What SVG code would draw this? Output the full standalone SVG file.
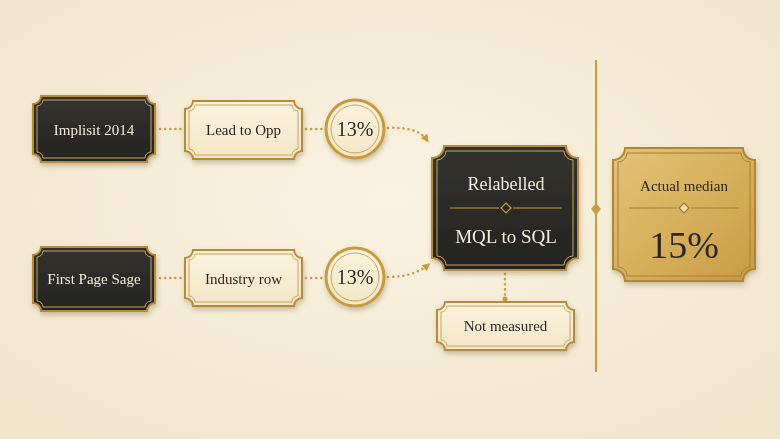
<svg xmlns="http://www.w3.org/2000/svg" width="780" height="439" viewBox="0 0 780 439">
<defs>
<radialGradient id="bg" cx="50%" cy="45%" r="75%"><stop offset="0" stop-color="#faf3e2"/><stop offset="1" stop-color="#efe3c9"/></radialGradient>
<linearGradient id="dark" x1="0" y1="0" x2="0" y2="1"><stop offset="0" stop-color="#34332f"/><stop offset="1" stop-color="#232320"/></linearGradient>
<linearGradient id="gold" x1="0" y1="0" x2="1" y2="1"><stop offset="0" stop-color="#e3c277"/><stop offset="0.5" stop-color="#d7b05d"/><stop offset="1" stop-color="#c99a45"/></linearGradient>
<linearGradient id="cream" x1="0" y1="0" x2="0" y2="1"><stop offset="0" stop-color="#fbf3de"/><stop offset="1" stop-color="#f3e6c6"/></linearGradient>
<filter id="sh" x="-20%" y="-20%" width="140%" height="150%"><feDropShadow dx="1" dy="3" stdDeviation="2.5" flood-color="#5a4520" flood-opacity="0.3"/></filter>
<marker id="ah" markerWidth="8" markerHeight="8" refX="5" refY="4" orient="auto" markerUnits="userSpaceOnUse"><path d="M0,0 L8,4 L0,8 Z" fill="#c99a3e"/></marker>
</defs>
<style>
.t{font-family:"Liberation Serif","DejaVu Serif",serif;text-anchor:middle}
.lt{fill:#f3ecdc}
.dk{fill:#2a2722}
.ob{stroke:#b88a3a;stroke-width:2}
.ib{fill:none;stroke:#c9a25a;stroke-width:1}
.con{fill:none;stroke:#c99a3e;stroke-width:2.5;stroke-dasharray:0.1 5;stroke-linecap:round}
</style>
<rect width="780" height="439" fill="url(#bg)"/>
<g id="divider">
<line x1="596" y1="60" x2="596" y2="372" stroke="#c99a3e" stroke-width="2"/>
<path d="M596,203 L601,209 L596,215 L591,209 Z" fill="#c99a3e"/>
</g>
<g id="connectors">
<line class="con" x1="160" y1="129" x2="182" y2="129"/>
<line class="con" x1="306" y1="129" x2="324" y2="129"/>
<path class="con" d="M388,128 C405,127 420,130 427,140" marker-end="url(#ah)"/>
<line class="con" x1="160" y1="278" x2="182" y2="278"/>
<line class="con" x1="306" y1="278" x2="324" y2="278"/>
<path class="con" d="M388,277 C405,277 418,273 428,265" marker-end="url(#ah)"/>
<line class="con" x1="505" y1="274" x2="505" y2="296"/>
<circle cx="505" cy="299" r="2.5" fill="#c99a3e"/>
</g>
<g id="implisit" filter="url(#sh)">
<path class="ob" fill="url(#dark)" d="M41,96 H147 A8 8 0 0 0 155,104 V154 A8 8 0 0 0 147,162 H41 A8 8 0 0 0 33,154 V104 A8 8 0 0 0 41,96 Z"/>
<path class="ib" d="M43,100 H145 A6 6 0 0 0 151,106 V152 A6 6 0 0 0 145,158 H43 A6 6 0 0 0 37,152 V106 A6 6 0 0 0 43,100 Z"/>
<text class="t lt" x="94" y="135" font-size="15">Implisit 2014</text>
</g>
<g id="lead" filter="url(#sh)">
<path class="ob" fill="url(#cream)" d="M193,101 H294 A8 8 0 0 0 302,109 V151 A8 8 0 0 0 294,159 H193 A8 8 0 0 0 185,151 V109 A8 8 0 0 0 193,101 Z"/>
<path class="ib" d="M195,105 H292 A6 6 0 0 0 298,111 V149 A6 6 0 0 0 292,155 H195 A6 6 0 0 0 189,149 V111 A6 6 0 0 0 195,105 Z"/>
<text class="t dk" x="243.5" y="135" font-size="15">Lead to Opp</text>
</g>
<g id="pct1" filter="url(#sh)">
<circle cx="355" cy="129" r="29" fill="url(#cream)" stroke="#c99a3e" stroke-width="3"/>
<circle cx="355" cy="129" r="24" fill="none" stroke="#c9a25a" stroke-width="1"/>
<text class="t dk" x="355" y="136" font-size="20">13%</text>
</g>
<g id="firstpage" filter="url(#sh)">
<path class="ob" fill="url(#dark)" d="M41,247 H147 A8 8 0 0 0 155,255 V303 A8 8 0 0 0 147,311 H41 A8 8 0 0 0 33,303 V255 A8 8 0 0 0 41,247 Z"/>
<path class="ib" d="M43,251 H145 A6 6 0 0 0 151,257 V301 A6 6 0 0 0 145,307 H43 A6 6 0 0 0 37,301 V257 A6 6 0 0 0 43,251 Z"/>
<text class="t lt" x="94" y="284" font-size="15">First Page Sage</text>
</g>
<g id="industry" filter="url(#sh)">
<path class="ob" fill="url(#cream)" d="M193,250 H294 A8 8 0 0 0 302,258 V298 A8 8 0 0 0 294,306 H193 A8 8 0 0 0 185,298 V258 A8 8 0 0 0 193,250 Z"/>
<path class="ib" d="M195,254 H292 A6 6 0 0 0 298,260 V296 A6 6 0 0 0 292,302 H195 A6 6 0 0 0 189,296 V260 A6 6 0 0 0 195,254 Z"/>
<text class="t dk" x="243.5" y="284" font-size="15">Industry row</text>
</g>
<g id="pct2" filter="url(#sh)">
<circle cx="355" cy="277" r="29" fill="url(#cream)" stroke="#c99a3e" stroke-width="3"/>
<circle cx="355" cy="277" r="24" fill="none" stroke="#c9a25a" stroke-width="1"/>
<text class="t dk" x="355" y="284" font-size="20">13%</text>
</g>
<g id="relabelled" filter="url(#sh)">
<path class="ob" fill="url(#dark)" d="M444,146 H566 A12 12 0 0 0 578,158 V258 A12 12 0 0 0 566,270 H444 A12 12 0 0 0 432,258 V158 A12 12 0 0 0 444,146 Z"/>
<path class="ib" d="M446,151 H564 A9 9 0 0 0 573,160 V256 A9 9 0 0 0 564,265 H446 A9 9 0 0 0 437,256 V160 A9 9 0 0 0 446,151 Z"/>
<text class="t lt" x="506" y="190" font-size="18">Relabelled</text>
<line x1="450" y1="208" x2="499" y2="208" stroke="#c99a3e" stroke-width="1.2"/>
<line x1="513" y1="208" x2="562" y2="208" stroke="#c99a3e" stroke-width="1.2"/>
<path d="M506,203 L511,208 L506,213 L501,208 Z" fill="none" stroke="#c99a3e" stroke-width="1.2"/>
<text class="t lt" x="506" y="243" font-size="19">MQL to SQL</text>
</g>
<g id="notmeasured" filter="url(#sh)">
<path class="ob" fill="url(#cream)" d="M445,302 H566 A8 8 0 0 0 574,310 V342 A8 8 0 0 0 566,350 H445 A8 8 0 0 0 437,342 V310 A8 8 0 0 0 445,302 Z"/>
<path class="ib" d="M447,306 H564 A6 6 0 0 0 570,312 V340 A6 6 0 0 0 564,346 H447 A6 6 0 0 0 441,340 V312 A6 6 0 0 0 447,306 Z"/>
<text class="t dk" x="505.5" y="331" font-size="15">Not measured</text>
</g>
<g id="actual" filter="url(#sh)">
<path stroke="#b08534" stroke-width="2" fill="url(#gold)" d="M625,148 H743 A12 12 0 0 0 755,160 V269 A12 12 0 0 0 743,281 H625 A12 12 0 0 0 613,269 V160 A12 12 0 0 0 625,148 Z"/>
<path fill="none" stroke="#a87f34" stroke-width="1" d="M627,153 H741 A9 9 0 0 0 750,162 V267 A9 9 0 0 0 741,276 H627 A9 9 0 0 0 618,267 V162 A9 9 0 0 0 627,153 Z"/>
<text class="t dk" x="684" y="191" font-size="15">Actual median</text>
<line x1="629" y1="208" x2="677" y2="208" stroke="#a07a30" stroke-width="1.2"/>
<line x1="691" y1="208" x2="739" y2="208" stroke="#a07a30" stroke-width="1.2"/>
<path d="M684,203 L689,208 L684,213 L679,208 Z" fill="#f0dca8" stroke="#a07a30" stroke-width="1.2"/>
<text class="t dk" x="684" y="258" font-size="38">15%</text>
</g>
</svg>
